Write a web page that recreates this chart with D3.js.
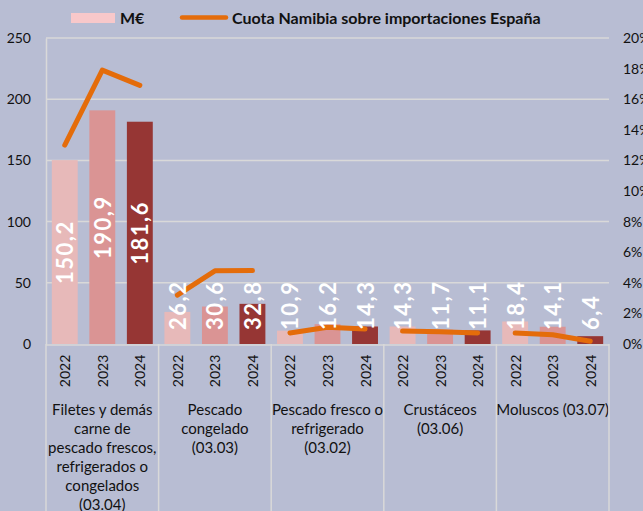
<!DOCTYPE html>
<html>
<head>
<meta charset="utf-8">
<script src="https://cdn.jsdelivr.net/npm/d3@7"></script>
<style>
  html, body { margin: 0; padding: 0; background: #b8bdd3; }
  svg { display: block; font-family: Lato, "Open Sans", sans-serif; }
</style>
</head>
<body>
<svg id="vis"></svg>
<script>
(function() {
  // data
  var categories = [
    ["Filetes y demás", "carne de", "pescado frescos,", "refrigerados o", "congelados", "(03.04)"],
    ["Pescado", "congelado", "(03.03)"],
    ["Pescado fresco o", "refrigerado", "(03.02)"],
    ["Crustáceos", "(03.06)"],
    ["Moluscos (03.07)"]
  ];
  var years = ["2022", "2023", "2024"];
  var values2022 = [150.2, 26.2, 10.9, 14.3, 18.4];
  var values2023 = [190.9, 30.6, 16.2, 11.7, 14.1];
  var values2024 = [181.6, 32.8, 14.3, 11.1, 6.4];
  var share2022 = [0.130, 0.032, 0.0072, 0.0085, 0.0072];
  var share2023 = [0.179, 0.0478, 0.011, 0.008, 0.006];
  var share2024 = [0.169, 0.048, 0.0098, 0.0072, 0.0018];
  var leftTicks = [0, 50, 100, 150, 200, 250];
  var rightTicks = [0, 0.02, 0.04, 0.06, 0.08, 0.10, 0.12, 0.14, 0.16, 0.18, 0.20];
  var yearColors = ["#e7b9b9", "#da9494", "#963634"];

  var width = 643, height = 511;
  var left = 46, right = 609, top = 38, base = 344;

  var chart = d3.select("#vis")
    .attr("width", width)
    .attr("height", height);

  var values = [values2022, values2023, values2024];
  var shares = [share2022, share2023, share2024];

  var x0 = d3.scaleBand()
    .domain(d3.range(categories.length))
    .range([left, right]);

  var x1 = d3.scaleBand()
    .domain(years)
    .range([0, x0.bandwidth()])
    .paddingInner(0.31)
    .paddingOuter(0.155);

  var y = d3.scaleLinear().domain([0, 250]).range([base, top]);
  var y2 = d3.scaleLinear().domain([0, 0.2]).range([base, top]);

  //gridlines
  chart.append("g")
    .selectAll("line")
    .data(leftTicks.slice(1))
    .enter()
    .append("line")
    .attr("x1", left).attr("x2", right)
    .attr("y1", function(d) { return y(d); })
    .attr("y2", function(d) { return y(d); })
    .attr("stroke", "#d9d9d9")
    .attr("stroke-width", 1.5);

  //left axis
  var yAxis = chart.append("g")
    .attr("transform", "translate(" + left + ",0)")
    .call(d3.axisLeft(y).tickValues(leftTicks).tickSize(0).tickPadding(15));
  yAxis.select(".domain").attr("stroke", "#d9d9d9").attr("stroke-width", 1.5);
  yAxis.selectAll("text").attr("font-size", 14).attr("fill", "#111")
    .attr("font-family", "Lato, sans-serif");

  //right axis
  var y2Axis = chart.append("g")
    .attr("transform", "translate(" + 623 + ",0)")
    .call(d3.axisRight(y2).tickValues(rightTicks).tickSize(0).tickPadding(0)
      .tickFormat(d3.format(".0%")));
  y2Axis.select(".domain").remove();
  y2Axis.selectAll("text").attr("font-size", 14).attr("fill", "#111")
    .attr("font-family", "Lato, sans-serif");

  //bars
  var groups = chart.append("g")
    .selectAll("g")
    .data(categories)
    .enter()
    .append("g")
    .attr("transform", function(d, i) { return "translate(" + x0(i) + ",0)"; });

  groups.selectAll("rect")
    .data(function(d, i) {
      return years.map(function(yr, j) { return { year: yr, j: j, v: values[j][i] }; });
    })
    .enter()
    .append("rect")
    .attr("x", function(d) { return x1(d.year); })
    .attr("y", function(d) { return y(d.v); })
    .attr("width", x1.bandwidth())
    .attr("height", function(d) { return base - y(d.v); })
    .attr("fill", function(d) { return yearColors[d.j]; });

  //share lines, one per category
  var line = d3.line()
    .x(function(d) { return x1(d.year) + x1.bandwidth() / 2; })
    .y(function(d) { return y2(d.s); });

  groups.append("path")
    .attr("d", function(d, i) {
      return line(years.map(function(yr, j) { return { year: yr, s: shares[j][i] }; }));
    })
    .attr("fill", "none")
    .attr("stroke", "#e46c0a")
    .attr("stroke-width", 5)
    .attr("stroke-linecap", "round")
    .attr("stroke-linejoin", "round");

  //bar labels
  var fmt = function(v) { return d3.format(".1f")(v).replace(".", ","); };
  groups.selectAll("text.val")
    .data(function(d, i) {
      return years.map(function(yr, j) { return { year: yr, j: j, v: values[j][i] }; });
    })
    .enter()
    .append("text")
    .attr("class", "val")
    .text(function(d) { return fmt(d.v); })
    .attr("font-size", 22)
    .attr("font-weight", "bold")
    .attr("letter-spacing", 1.5)
    .attr("fill", "#fff")
    .attr("text-anchor", "middle")
    .attr("dominant-baseline", "central")
    .attr("transform", function(d) {
      var len = this.getComputedTextLength();
      var mid = (y(d.v) + base) / 2;
      var cy = Math.min(mid, 330 - len / 2);
      var cx = x1(d.year) + x1.bandwidth() / 2;
      return "translate(" + cx + "," + cy + ") rotate(-90)";
    });

  //category axis
  chart.append("line")
    .attr("x1", left).attr("x2", right)
    .attr("y1", base + 1).attr("y2", base + 1)
    .attr("stroke", "#d9d9d9").attr("stroke-width", 1.5);

  chart.append("g")
    .selectAll("line")
    .data(d3.range(categories.length + 1))
    .enter()
    .append("line")
    .attr("x1", function(d) { return left + d * x0.bandwidth(); })
    .attr("x2", function(d) { return left + d * x0.bandwidth(); })
    .attr("y1", base).attr("y2", height)
    .attr("stroke", "#d9d9d9").attr("stroke-width", 1.5);

  groups.selectAll("text.yr")
    .data(years)
    .enter()
    .append("text")
    .attr("class", "yr")
    .text(function(d) { return d; })
    .attr("font-size", 14)
    .attr("fill", "#111")
    .attr("text-anchor", "middle")
    .attr("dominant-baseline", "central")
    .attr("transform", function(d) {
      return "translate(" + (x1(d) + x1.bandwidth() / 2) + "," + 371 + ") rotate(-90)";
    });

  groups.append("text")
    .attr("font-size", 15)
    .attr("fill", "#111")
    .attr("text-anchor", "middle")
    .selectAll("tspan")
    .data(function(d) { return d; })
    .enter()
    .append("tspan")
    .attr("x", x0.bandwidth() / 2)
    .attr("y", function(d, i) { return 415 + i * 19; })
    .text(function(d) { return d; });

  //legend
  var legend = chart.append("g");
  legend.append("rect")
    .attr("x", 71).attr("y", 13).attr("width", 44).attr("height", 10)
    .attr("fill", "#f8c8ca");
  legend.append("text")
    .attr("x", 120).attr("y", 24)
    .attr("font-size", 16).attr("font-weight", "bold").attr("fill", "#111")
    .text("M€");
  legend.append("line")
    .attr("x1", 182).attr("x2", 226).attr("y1", 17.5).attr("y2", 17.5)
    .attr("stroke", "#e46c0a").attr("stroke-width", 4.5).attr("stroke-linecap", "round");
  legend.append("text")
    .attr("x", 232).attr("y", 24)
    .attr("font-size", 16).attr("font-weight", "bold").attr("fill", "#111")
    .text("Cuota Namibia sobre importaciones España");
}());
</script>
</body>
</html>
